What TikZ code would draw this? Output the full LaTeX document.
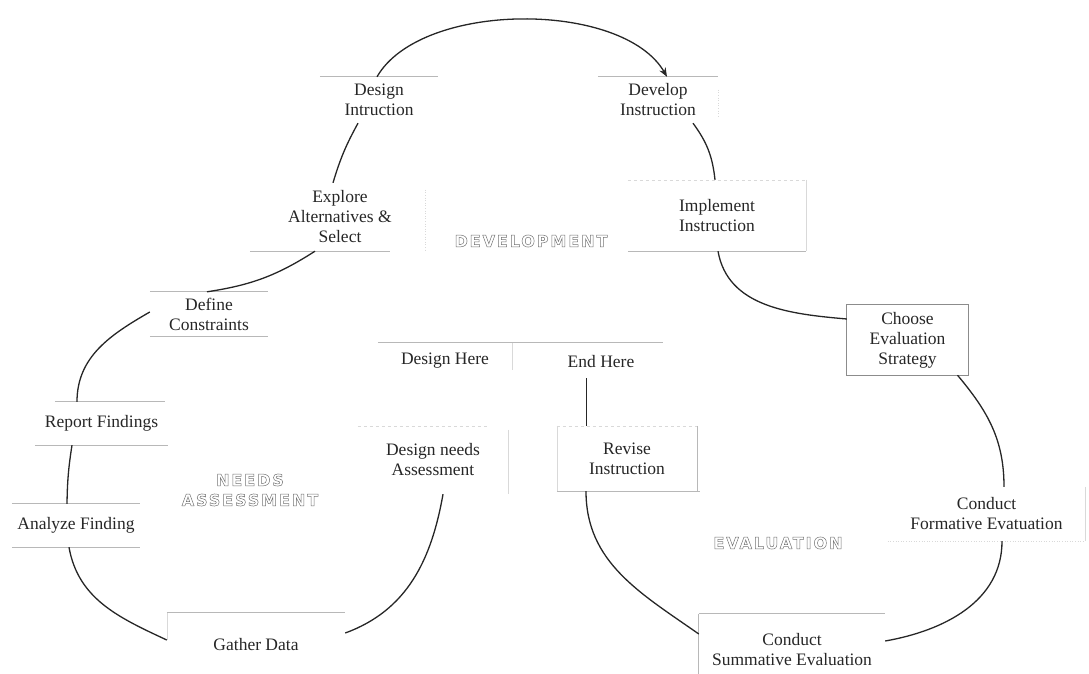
\documentclass[tikz,border=0pt]{standalone}
\usepackage{fontspec}
\setmainfont{Liberation Serif}
\newfontfamily\lblfont[LetterSpace=12]{DejaVu Sans}
\usetikzlibrary{arrows.meta}
\newcommand\hollowtext[1]{\special{pdf:literal direct 1 Tr 0.5 w}#1\special{pdf:literal direct 0 Tr}}
\tikzset{
  stepnode/.style={draw=none, align=center, inner sep=0pt,
    font=\fontsize{17.5}{20}\selectfont, text=black!85},
  frame/.style={draw=black!28, line width=0.7pt},
  faint/.style={draw=black!15, line width=0.6pt},
  flow/.style={draw=black!85, line width=1.3pt},
  phase/.style={align=center, inner sep=0pt,
    font=\lblfont\bfseries\fontsize{16}{20}\selectfont, text=black!55}
}
\begin{document}
\begin{tikzpicture}[x=1pt,y=-1pt]
\useasboundingbox (0,0) rectangle (1089,674);

% ---------- nodes ----------
\node[stepnode, minimum width=118pt, minimum height=46pt] (di) at (379,100) {Design\\Intruction};
\node[stepnode, minimum width=120pt, minimum height=46pt] (dv) at (658,100) {Develop\\Instruction};
\node[stepnode, minimum width=170pt, minimum height=68pt] (ex) at (340,217) {Explore\\Alternatives \&\\Select};
\node[stepnode, minimum width=178pt, minimum height=71pt] (im) at (717,215.5) {Implement\\Instruction};
\node[stepnode, minimum width=118pt, minimum height=44pt] (dc) at (209,314) {Define\\Constraints};
\node[stepnode, minimum width=121pt, minimum height=70pt] (ch) at (907.5,340) {Choose\\Evaluation\\Strategy};
\node[stepnode, minimum width=134pt, minimum height=36pt] (dh) at (445,361) {Design Here};
\node[stepnode, minimum width=124pt, minimum height=32pt] (eh) at (601,362) {End Here};
\node[stepnode, minimum width=133pt, minimum height=43pt] (rf) at (101.5,423.5) {Report Findings};
\node[stepnode, minimum width=150pt, minimum height=68pt] (dn) at (433,460) {Design needs\\Assessment};
\node[stepnode, minimum width=140pt, minimum height=65pt] (rv) at (627,458.5) {Revise\\Instruction};
\node[stepnode, minimum width=128pt, minimum height=43pt] (af) at (76,525.5) {Analyze Finding};
\node[stepnode, minimum width=197pt, minimum height=54pt] (cf) at (986.5,514) {Conduct\\Formative Evatuation};
\node[stepnode, minimum width=178pt, minimum height=64pt] (gd) at (256,645) {Gather Data};
\node[stepnode, minimum width=186pt, minimum height=72pt] (cs) at (792,650) {Conduct\\Summative Evaluation};

\node[phase] (pdev) at (531,241) {\hollowtext{DEVELOPMENT}};
\node[phase] (pneed) at (250,490) {\hollowtext{NEEDS}\\\hollowtext{ASSESSMENT}};
\node[phase] (peval) at (778,543) {\hollowtext{EVALUATION}};

% ---------- partial frames ----------
\draw[frame] (di.north west) -- (di.north east);
\draw[frame] (dv.north west) -- (dv.north east);
\draw[faint, dotted] ([yshift=-13pt]dv.north east) -- ([yshift=5pt]dv.south east);
\draw[frame] ([xshift=-5pt]ex.south west) -- ([xshift=-35pt]ex.south east);
\draw[faint, dotted] ([yshift=-7pt]ex.north east) -- (ex.south east);
\draw[faint, dashed] (im.north west) -- (im.north east);
\draw[frame] (im.south west) -- (im.south east);
\draw[faint] (im.north east) -- (im.south east);
\draw[frame] (dc.north west) -- (dc.north east);
\draw[frame] (dc.south west) -- (dc.south east);
\draw[draw=black!45, line width=0.8pt] (ch.north west) rectangle (ch.south east);
\draw[frame] (dh.north west) -- (dh.north west -| eh.north east);
\draw[faint] (dh.north east) -- ([yshift=-9pt]dh.east);
\draw[frame] ([xshift=20pt]rf.north west) -- ([xshift=-3pt]rf.north east);
\draw[frame] (rf.south west) -- (rf.south east);
\draw[frame] (af.north west) -- (af.north east);
\draw[frame] (af.south west) -- (af.south east);
\draw[faint, dashed] (dn.north west) -- ([xshift=-20pt]dn.north east);
\draw[faint] ([yshift=-4pt]dn.north east) -- (dn.south east);
\draw[faint, dashed] (rv.north west) -- (rv.north east);
\draw[faint] (rv.north west) -- (rv.south west);
\draw[frame] (rv.north east) -- (rv.south east);
\draw[frame] (rv.south west) -- ([xshift=3pt]rv.south east);
\draw[faint, dotted, line width=1pt] (cf.south west) -- (cf.south east);
\draw[faint] (cf.north east) -- (cf.south east);
\draw[frame] (gd.north west) -- (gd.north east);
\draw[faint] (gd.north west) -- ([yshift=5pt]gd.west);
\draw[frame] (cs.north west) -- (cs.north east);
\draw[frame] (cs.north west) -- ([yshift=12pt]cs.south west);

% ---------- connectors ----------
\draw[flow, -{Stealth[length=9pt,width=7pt]}] ([xshift=-2pt]di.north) to[out=60,in=120,looseness=0.78] ([xshift=9pt]dv.north);
\draw[flow] ([xshift=-21pt]di.south) to[bend right=6] ([xshift=-7pt]ex.north);
\draw[flow] ([xshift=-25pt]ex.south) to[bend left=12] ([xshift=-2pt]dc.north);
\draw[flow] ([yshift=2pt]dc.west) to[out=210,in=90] ([xshift=-24.5pt]rf.north);
\draw[flow] ([xshift=-29.5pt]rf.south) to[bend right=4] ([xshift=-9pt]af.north);
\draw[flow] ([xshift=-7pt]af.south) to[out=-80,in=155] ([yshift=5pt]gd.west);
\draw[flow] ([yshift=12pt]gd.east) to[out=20,in=-100] ([xshift=10pt]dn.south);
\draw[flow] ([xshift=35pt]dv.south) to[bend left=15] ([xshift=-2pt]im.north);
\draw[flow] ([xshift=1pt]im.south) to[out=-80,in=175] ([yshift=21pt]ch.west);
\draw[flow] ([xshift=50pt]ch.south) to[out=-50,in=90] ([xshift=17.5pt]cf.north);
\draw[flow] ([xshift=15.5pt]cf.south) to[out=-90,in=10] ([yshift=9pt]cs.east);
\draw[flow] ([yshift=16pt]cs.west) to[out=145,in=-90] ([xshift=-41pt]rv.south);
\draw[flow, line width=1pt] ([xshift=-41pt]rv.north) -- ([xshift=-15pt]eh.south);
\end{tikzpicture}
\end{document}
